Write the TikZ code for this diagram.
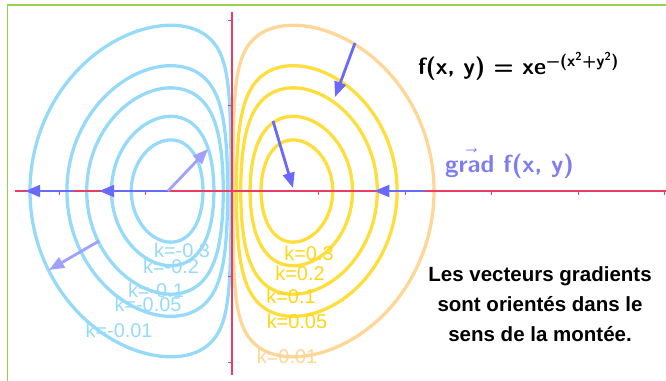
\documentclass[tikz,border=0pt]{standalone}
\usepackage{amsmath}
\usepackage{fontspec}
\setmainfont{Liberation Sans}
\usetikzlibrary{arrows.meta}

\definecolor{negblue}{RGB}{150,218,250}
\definecolor{posyellow}{RGB}{255,222,60}
\definecolor{labyellow}{RGB}{255,214,20}
\definecolor{loworange}{RGB}{255,214,150}
\definecolor{axisred}{RGB}{235,60,100}
\definecolor{gradblue}{RGB}{105,105,250}
\definecolor{gradlight}{RGB}{160,160,255}
\definecolor{gradtext}{RGB}{125,125,240}
\definecolor{framegreen}{RGB}{150,210,80}

\tikzset{
  declare function={
    lx(\t)=\xa+(\xb-\xa)*(1-cos(\t))/2;
    ly(\t)=sqrt(max(0,ln(lx(\t)/\kk)-lx(\t)^2));
  },
  levelline/.style={line width=2.8pt, smooth, samples=70},
  levellabel/.style={font=\fontsize{17}{20}\selectfont, inner sep=0pt},
  gradvec/.style={line width=2.4pt, -{Triangle[length=13pt,width=10pt]}}
}

\begin{document}
\begin{tikzpicture}[x=2.595cm, y=2.565cm]
    \useasboundingbox (-2.682,-2.211) rectangle (5.017,2.234);

    % Frame
    \draw[framegreen, line width=1.3pt] (-2.595,-2.4) -- (-2.595,2.175) -- (5.2,2.175);

    % Level curves f(x,y)=k, k>0
    \foreach \kk/\xa/\xb/\col in {0.01/0.0100/2.3352/loworange, 0.05/0.05013/1.9084/posyellow,
        0.1/0.10103/1.6796/posyellow, 0.2/0.20892/1.3932/posyellow, 0.3/0.33581/1.16465/posyellow}
      \draw[levelline, \col] plot[domain=0:180] ({lx(\x)},{ly(\x)})
        -- plot[domain=180:360] ({lx(\x)},{-ly(\x)}) -- cycle;

    % Level curves f(x,y)=k, k<0 (mirror image)
    \begin{scope}[xscale=-1]
      \foreach \kk/\xa/\xb in {0.01/0.0100/2.3352, 0.05/0.05013/1.9084,
          0.1/0.10103/1.6796, 0.2/0.20892/1.3932, 0.3/0.33581/1.16465}
        \draw[levelline, negblue] plot[domain=0:180] ({lx(\x)},{ly(\x)})
          -- plot[domain=180:360] ({lx(\x)},{-ly(\x)}) -- cycle;
    \end{scope}

    % Axes
    \draw[axisred, line width=1pt] (-2.509,0) -- (5.017,0);
    \draw[axisred, line width=1pt] (0,-2.152) -- (0,2.094);
    \foreach \t in {-2,-1,1,2,3,4,5}
      \draw[axisred, line width=0.7pt] (\t,0) -- (\t,-0.05);
    \foreach \t in {-2,-1,1,2}
      \draw[axisred, line width=0.7pt] (0,\t) -- (-0.05,\t);

    % Gradient vectors
    \draw[gradvec, gradblue] (-1.827,0) -- (-2.393,0);
    \draw[gradvec, gradblue] (-0.728,0) -- (-1.538,0);
    \draw[gradvec, gradblue] (2.231,0) -- (1.642,0);
    \draw[gradvec, gradlight] (-0.740,0) -- (-0.277,0.491);
    \draw[gradvec, gradblue] (0.474,0.819) -- (0.705,0.035);
    \draw[gradvec, gradblue] (1.422,1.731) -- (1.191,1.099);
    \draw[gradvec, gradlight] (-1.538,-0.585) -- (-2.116,-0.924);

    % Labels of the level curves
    \node[levellabel, negblue] (lm3) at (-0.578,-0.690) {k=-0.3};
    \node[levellabel, negblue] (lm2) at (-0.705,-0.877) {k=-0.2};
    \node[levellabel, negblue] (lm1) at (-0.879,-1.158) {k=-0.1};
    \node[levellabel, negblue] (lm05) at (-0.971,-1.322) {k=-0.05};
    \node[levellabel, negblue] (lm01) at (-1.306,-1.626) {k=-0.01};
    \node[levellabel, labyellow] (lp3) at (0.890,-0.725) {k=0.3};
    \node[levellabel, labyellow] (lp2) at (0.786,-0.959) {k=0.2};
    \node[levellabel, labyellow] (lp1) at (0.682,-1.228) {k=0.1};
    \node[levellabel, labyellow] (lp05) at (0.751,-1.520) {k=0.05};
    \node[levellabel, loworange] (lp01) at (0.636,-1.930) {k=0.01};

    % Function and gradient
    \node[anchor=base, inner sep=0pt, font=\fontsize{20}{24}\selectfont\sffamily\bfseries] (func) at (3.312,1.357)
      {f(x, y) = xe\textsuperscript{−(x\textsuperscript{2}+y\textsuperscript{2})}};
    \node[anchor=base, inner sep=0pt, gradtext, font=\fontsize{21}{24}\selectfont\sffamily\bfseries] (grad) at (3.208,0.222)
      {$\vec{\textsf{\bfseries grad}}$ f(x, y)};

    % Comment
    \node[align=center, inner sep=0pt, font=\fontsize{17.5}{25.6}\selectfont\bfseries] (note) at (3.561,-1.322)
      {Les vecteurs gradients\\ sont orientés dans le\\ sens de la montée.};
\end{tikzpicture}
\end{document}
